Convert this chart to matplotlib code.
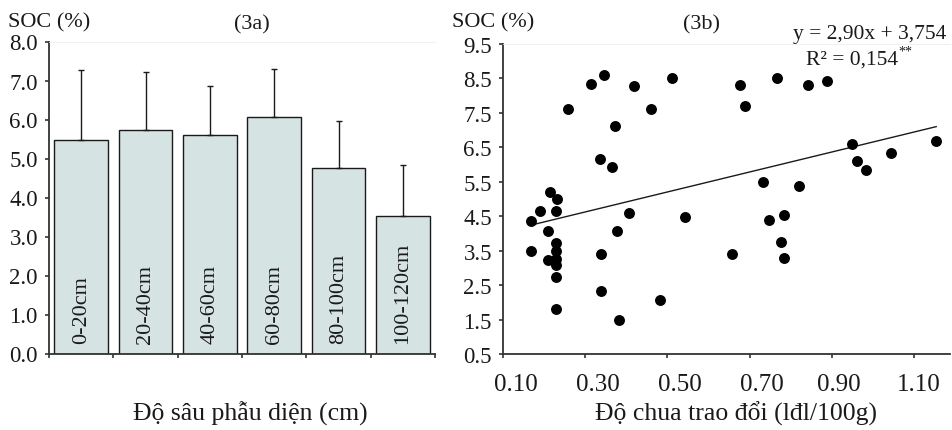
import matplotlib
matplotlib.use("Agg")
import matplotlib.pyplot as plt
import matplotlib.transforms as mtransforms
import numpy as np

plt.rcParams["font.family"] = ["Liberation Serif", "DejaVu Serif"]

# (3a) SOC theo độ sâu
depths = ["0-20cm", "20-40cm", "40-60cm", "60-80cm", "80-100cm", "100-120cm"]
soc_mean = [5.48, 5.72, 5.60, 6.07, 4.76, 3.52]
soc_err = [1.80, 1.50, 1.26, 1.22, 1.21, 1.31]

# (3b) SOC theo độ chua trao đổi
acid = [0.313, 0.346, 0.258, 0.419, 0.460, 0.511, 0.372, 0.336, 0.366, 0.676,
        0.688, 0.767, 0.841, 0.888, 0.950, 0.961, 0.983, 1.044, 1.154, 0.733,
        0.819, 0.214, 0.232, 0.189, 0.230, 0.406, 0.542, 0.747, 0.783, 0.169,
        0.169, 0.209, 0.230, 0.230, 0.230, 0.230, 0.209, 0.230, 0.230, 0.339,
        0.378, 0.339, 0.383, 0.482, 0.656, 0.777, 0.783]
soc = [8.35, 8.59, 7.62, 8.27, 7.62, 8.51, 7.11, 6.16, 5.92, 8.30,
       7.70, 8.51, 8.30, 8.42, 6.59, 6.11, 5.84, 6.35, 6.69, 5.49,
       5.39, 5.20, 4.99, 4.65, 4.65, 4.59, 4.47, 4.40, 4.54, 4.36,
       3.49, 4.08, 3.73, 3.50, 3.26, 3.09, 3.23, 2.75, 1.80, 3.41,
       4.08, 2.34, 1.50, 2.07, 3.41, 3.76, 3.29]
slope, intercept = 2.90, 3.754

W, H = 952, 431
fig = plt.figure(figsize=(W / 100, H / 100), dpi=100, facecolor="white")


def fx(px):
    return px / W


def fy(py):
    return 1 - py / H


ink = "#1a1a1a"
fs = 16.5

# ---- (3a) ----
ax1 = fig.add_axes((fx(49), fy(354.5), fx(435) - fx(49), fy(42.5) - fy(354.5)))
pos = np.arange(len(depths))
ax1.bar(pos, soc_mean, width=0.83, color="#d6e3e3", edgecolor=ink, linewidth=1.0,
        zorder=2)
ax1.errorbar(pos, soc_mean, yerr=[np.zeros(len(soc_err)), soc_err], fmt="none",
             ecolor=ink, elinewidth=1.0, capsize=2.5, capthick=1.0, zorder=3)
for i, lab in enumerate(depths):
    ax1.text(i, 0.27, lab, rotation=90, ha="center", va="bottom", fontsize=16,
             color=ink)
ax1.set_xlim(-0.5, len(depths) - 0.5)
ax1.set_ylim(0, 8)
ax1.set_yticks(np.arange(0, 8.01, 1))
ax1.set_yticklabels([f"{v:.1f}" for v in np.arange(0, 8.01, 1)])
ax1.set_xticks(np.arange(-0.5, len(depths), 1))
ax1.set_xticklabels([])

# ---- (3b) ----
ax2 = fig.add_axes((fx(503), fy(355), fx(950) - fx(503), fy(45) - fy(355)))
ax2.scatter(acid, soc, s=62, color="black", zorder=3, linewidths=0)
xl = np.array([min(acid), max(acid)])
ax2.plot(xl, slope * xl + intercept, color=ink, lw=1.0, zorder=2)
ax2.set_xlim(0.1, 0.1 + 447 / 411)
ax2.set_ylim(0.5, 9.5)
ax2.set_yticks(np.arange(0.5, 9.51, 1))
ax2.set_yticklabels([f"{v:.1f}" for v in np.arange(0.5, 9.51, 1)])
ax2.set_xticks(np.arange(0.1, 1.11, 0.2))
ax2.set_xticklabels([f"{v:.2f}" for v in np.arange(0.1, 1.11, 0.2)])

for ax in (ax1, ax2):
    ax.spines["right"].set_visible(False)
    ax.spines["top"].set_color("#eeeeee")
    ax.spines["top"].set_linewidth(0.6)
    for s in ("left", "bottom"):
        ax.spines[s].set_color("#333333")
        ax.spines[s].set_linewidth(1.3)
    ax.tick_params(direction="out", length=3, width=1.2, color="#333333",
                   labelsize=fs, labelcolor=ink, pad=5)

ax2.tick_params(axis="x", pad=11, labelsize=18)
# nhãn trục x hơi lệch phải so với vạch (kiểu Excel)
shifts = [13, 13, 12, 12, 7, 5]
for lbl, dx in zip(ax2.get_xticklabels(), shifts):
    lbl.set_transform(lbl.get_transform() +
                      mtransforms.ScaledTranslation(dx / 100, 0, fig.dpi_scale_trans))

# titles / labels
fig.text(fx(8), fy(23), "SOC (%)", ha="left", va="center", fontsize=16, color=ink)
fig.text(fx(252), fy(25), "(3a)", ha="center", va="center", fontsize=16, color=ink)
fig.text(fx(250), fy(414), "Độ sâu phẫu diện (cm)", ha="center", va="center",
         fontsize=18.5, color=ink)

fig.text(fx(452), fy(23), "SOC (%)", ha="left", va="center", fontsize=16, color=ink)
fig.text(fx(702), fy(25), "(3b)", ha="center", va="center", fontsize=16, color=ink)
fig.text(fx(946), fy(35), "y = 2,90x + 3,754", ha="right", va="center",
         fontsize=15.5, color=ink)
fig.text(fx(898), fy(60), "R² = 0,154", ha="right", va="center",
         fontsize=15.5, color=ink)
fig.text(fx(898), fy(52), "**", ha="left", va="center", fontsize=10, color=ink)
fig.text(fx(736), fy(414), "Độ chua trao đổi (lđl/100g)", ha="center",
         va="center", fontsize=18.5, color=ink)

fig.savefig("out.png", dpi=100, facecolor="white")
